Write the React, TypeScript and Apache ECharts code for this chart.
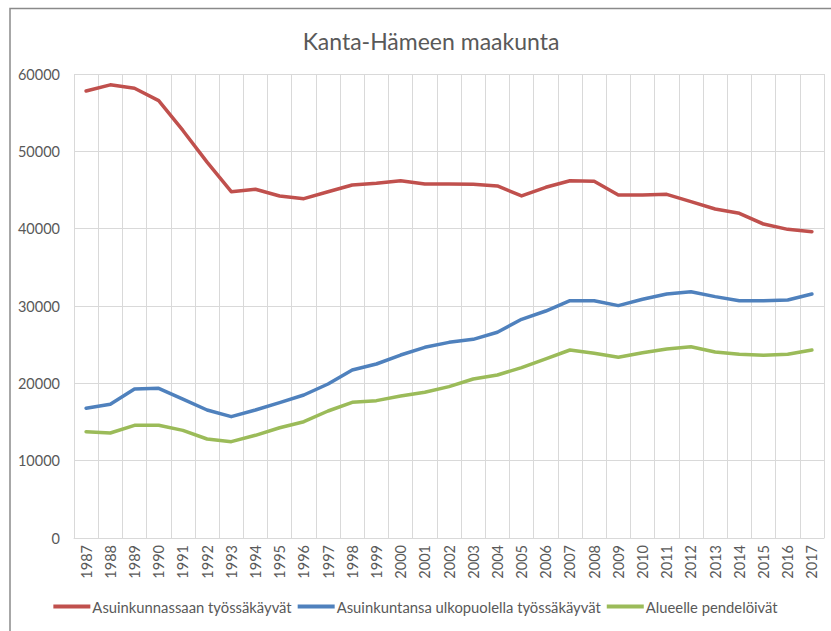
import React, { useEffect, useRef } from "react";
import * as echarts from "echarts";

const years = [
  "1987","1988","1989","1990","1991","1992","1993","1994","1995","1996",
  "1997","1998","1999","2000","2001","2002","2003","2004","2005","2006",
  "2007","2008","2009","2010","2011","2012","2013","2014","2015","2016","2017",
];

const asuinkunnassaan = [
  57800, 58600, 58150, 56550, 52700, 48600, 44780, 45100, 44230, 43880,
  44780, 45650, 45870, 46200, 45780, 45780, 45750, 45520, 44230, 45350,
  46200, 46120, 44350, 44350, 44440, 43490, 42540, 41990, 40600, 39910, 39610,
];

const ulkopuolella = [
  16770, 17290, 19270, 19360, 17970, 16550, 15690, 16550, 17500, 18490,
  19910, 21720, 22500, 23660, 24660, 25300, 25690, 26600, 28280, 29350,
  30690, 30690, 30050, 30870, 31550, 31850, 31210, 30690, 30690, 30780, 31550,
];

const pendeloivat = [
  13750, 13580, 14570, 14570, 13920, 12800, 12460, 13280, 14260, 15040,
  16420, 17550, 17760, 18360, 18840, 19570, 20560, 21080, 22030, 23150,
  24310, 23880, 23370, 23960, 24440, 24740, 24050, 23750, 23620, 23750, 24310,
];

const seriesNames = [
  "Asuinkunnassaan työssäkäyvät",
  "Asuinkuntansa ulkopuolella työssäkäyvät",
  "Alueelle pendelöivät",
];

const colors = ["#C0504D", "#4F81BD", "#9BBB59"];
const titleText = "Kanta-Hämeen maakunta";
const FONT = "Lato, 'Open Sans', sans-serif";

export default function App() {
  const ref = useRef<HTMLDivElement>(null);
  useEffect(() => {
    if (!ref.current) return;
    const chart = echarts.init(ref.current, undefined, { renderer: "svg" });
    const data = [asuinkunnassaan, ulkopuolella, pendeloivat];
    chart.setOption({
      animation: false,
      backgroundColor: "#ffffff",
      textStyle: { fontFamily: FONT },
      title: {
        text: titleText,
        left: 426,
        textAlign: "center",
        top: 24,
        textStyle: { fontSize: 23, fontWeight: "normal", color: "#595959", fontFamily: FONT },
      },
      graphic: [
        {
          type: "polyline",
          shape: { points: [[10, 640], [10, 8.5], [840, 8.5]] },
          style: { stroke: "#8a8a8a", lineWidth: 1.5, fill: "none" },
          silent: true,
        },
      ],
      legend: {
        bottom: 12,
        left: "center",
        icon: "rect",
        itemWidth: 37,
        itemHeight: 4,
        itemGap: 6,
        textStyle: { fontSize: 14.8, color: "#595959", fontFamily: FONT, padding: [0, 0, 0, -3] },
        data: seriesNames,
      },
      grid: { left: 74, right: 7, top: 74, bottom: 93, containLabel: false },
      xAxis: {
        type: "category",
        data: years,
        boundaryGap: true,
        axisLine: { show: true, lineStyle: { color: "#d9d9d9", width: 1 } },
        axisTick: { show: false },
        axisLabel: { rotate: 90, fontSize: 14.5, color: "#595959", margin: 7, interval: 0, fontFamily: FONT },
        splitLine: { show: true, interval: 0, lineStyle: { color: "#d9d9d9", width: 1 } },
      },
      yAxis: {
        type: "value",
        min: 0,
        max: 60000,
        interval: 10000,
        axisLine: { show: false },
        axisTick: { show: false },
        axisLabel: {
          fontSize: 14.5,
          color: "#595959",
          margin: 14,
          fontFamily: FONT,
          formatter: (v: number) => String(v),
        },
        splitLine: { show: true, lineStyle: { color: "#d9d9d9", width: 1 } },
      },
      series: seriesNames.map((name, i) => ({
        name,
        type: "line",
        data: data[i],
        symbol: "none",
        itemStyle: { color: colors[i] },
        lineStyle: { color: colors[i], width: 3.5, cap: "round", join: "round" },
      })),
    });
    return () => chart.dispose();
  }, []);
  return (
    <div
      ref={ref}
      style={{ position: "fixed", left: 0, top: 0, width: 831, height: 631 }}
    />
  );
}
